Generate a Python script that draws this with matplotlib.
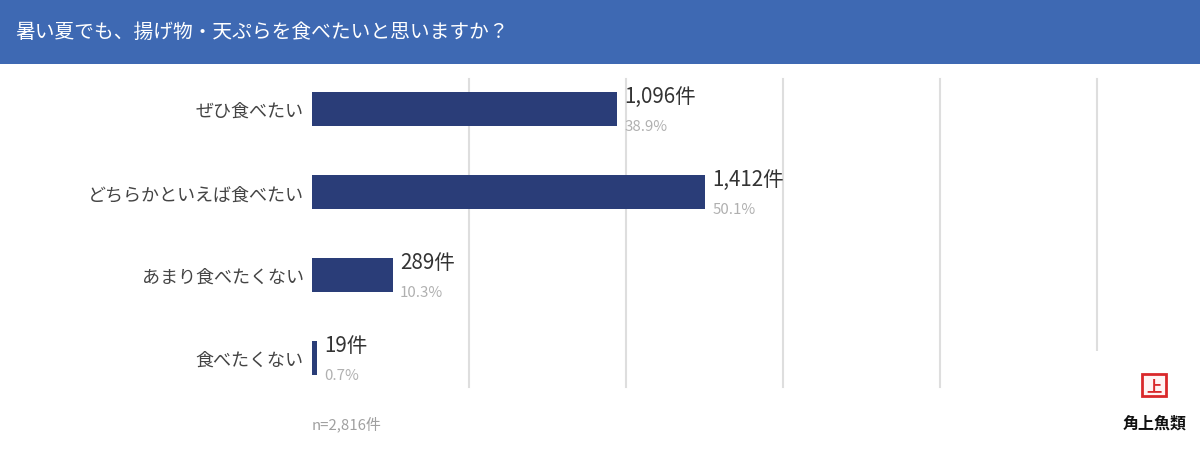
import matplotlib
matplotlib.use("Agg")
import matplotlib.pyplot as plt
from matplotlib.patches import Rectangle

plt.rcParams['font.family'] = ['Noto Sans CJK JP', 'DejaVu Sans']

title = "暑い夏でも、揚げ物・天ぷらを食べたいと思いますか？"
categories = ["ぜひ食べたい", "どちらかといえば食べたい", "あまり食べたくない", "食べたくない"]
counts = [1096, 1412, 289, 19]
percents = [38.9, 50.1, 10.3, 0.7]
total = 2816
grid_ticks = [20, 40, 60, 80, 100]

fig = plt.figure(figsize=(12, 4.56), dpi=100)
fig.patch.set_facecolor("white")

# header band
fig.patches.append(Rectangle((0, 1 - 65 / 456), 1, 65 / 456, transform=fig.transFigure,
                             facecolor="#3e69b3", edgecolor="none", zorder=0))
fig.text(15 / 1200, 1 - 32 / 456, title, color="white", fontsize=14.2, va="center", ha="left")

ax = fig.add_axes([312 / 1200, 1 - 388 / 456, 785 / 1200, 308 / 456])
ax.set_xlim(0, 100)
ax.set_ylim(3.349, -0.361)
for s in ax.spines.values():
    s.set_visible(False)
ax.set_xticks(grid_ticks)
ax.set_xticklabels([])
ax.tick_params(axis="x", length=0)
ax.grid(axis="x", color="#dedede", linewidth=1.5)
for gl in ax.get_xgridlines():
    gl.set_clip_on(False)
ax.set_axisbelow(True)

ypos = list(range(len(categories)))
ax.barh(ypos, percents, height=0.4, color="#2a3d78", zorder=3)
ax.set_yticks(ypos)
ax.set_yticklabels(categories, fontsize=13, color="#444444")
ax.tick_params(axis="y", length=0, pad=6)

for y, c, p in zip(ypos, counts, percents):
    ax.annotate(f"{c:,}件", (p, y), xytext=(7, 13), textcoords="offset pixels",
                fontsize=14.8, color="#333333", va="center", ha="left")
    ax.annotate(f"{p:.1f}%", (p, y), xytext=(7, -17), textcoords="offset pixels",
                fontsize=10.8, color="#b0b0b0", va="center", ha="left")

fig.text(312 / 1200, 1 - 424 / 456, f"n={total:,}件", fontsize=10.8, color="#a0a0a0",
         va="center", ha="left")

# logo box
fig.patches.append(Rectangle((1088 / 1200, 0), 112 / 1200, 104 / 456, transform=fig.transFigure,
                             facecolor="white", edgecolor="none", zorder=5))
fig.patches.append(Rectangle((1142 / 1200, 1 - 397 / 456), 24 / 1200, 22 / 456,
                             transform=fig.transFigure, facecolor="#fff4f4",
                             edgecolor="#d9282a", linewidth=2, zorder=6))
fig.text(1154 / 1200, 1 - 386 / 456, "上", fontsize=11, color="#d9282a", fontweight="bold",
         ha="center", va="center", zorder=7)
fig.text(1155 / 1200, 1 - 424 / 456, "角上魚類", fontsize=11.5, color="#111111", fontweight="bold",
         ha="center", va="center", zorder=7)

fig.savefig("out.png", dpi=100)
